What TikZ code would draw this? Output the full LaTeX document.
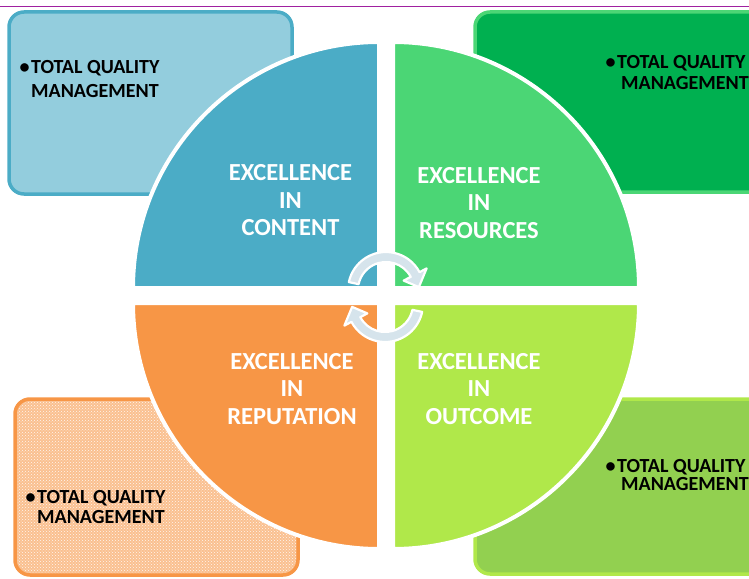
\documentclass[tikz,border=0pt]{standalone}
\usepackage{fontspec}
\setmainfont{Carlito}
\usetikzlibrary{patterns}

\definecolor{qblue}{RGB}{75,172,198}
\definecolor{qgreen}{RGB}{75,214,117}
\definecolor{qorange}{RGB}{247,150,70}
\definecolor{qlime}{RGB}{176,232,74}
\definecolor{bblue}{RGB}{147,205,221}
\definecolor{bgreen}{RGB}{0,176,80}
\definecolor{borange}{RGB}{250,192,144}
\definecolor{blime}{RGB}{146,208,80}
\definecolor{rule}{RGB}{160,32,160}
\definecolor{arrowfill}{RGB}{214,228,236}

\begin{document}
\begin{tikzpicture}[x=1pt,y=1pt,
  infobox/.style={line width=3.5pt, rounded corners=15pt},
  quarter/.style={draw=white, line width=4pt, line join=round},
  cyclearrow/.style={fill=arrowfill, draw=white, line width=2.2pt, line join=round},
  qlabel/.style={text=white, font=\fontsize{24.5}{27.5}\selectfont\bfseries, align=center, inner sep=0pt},
  bline/.style={text=black, font=\fontsize{20}{23}\selectfont\bfseries, anchor=base west, inner sep=0pt}]
\useasboundingbox (0,0) rectangle (749,-578);
\clip (0,0) rectangle (749,-578);

% heading rule
\draw[rule, line width=1.6pt] (0,-6.5) -- (749,-6.5);

% corner boxes
\draw[infobox, draw=qblue, fill=bblue] (9,-12) rectangle (292,-194);
\draw[infobox, draw=qgreen, fill=bgreen] (475,-12) rectangle (770,-192);
\draw[infobox, draw=qorange, fill=borange] (15,-399) rectangle (298,-575);
\fill[pattern=crosshatch dots, pattern color=white!85!borange, rounded corners=15pt] (17,-401) rectangle (296,-573);
\draw[infobox, draw=qlime, fill=blime] (475,-399) rectangle (770,-574);

% four quarter discs
\def\R{246}
\path[quarter, fill=qblue]   (379,-288) -- ++(-\R,0) arc[start angle=180, end angle=90,  radius=\R] -- cycle;
\path[quarter, fill=qgreen]  (393,-288) -- ++(0,\R)  arc[start angle=90,  end angle=0,   radius=\R] -- cycle;
\path[quarter, fill=qorange] (379,-303) -- ++(0,-\R) arc[start angle=270, end angle=180, radius=\R] -- cycle;
\path[quarter, fill=qlime]   (393,-303) -- ++(\R,0)  arc[start angle=0,   end angle=-90, radius=\R] -- cycle;

% circular arrows in the middle
\path[cyclearrow, shift={(386,-290)}]
  (168:38) arc[start angle=168, end angle=28, radius=38]
  -- (28:46) -- (5:33) -- (28:20) -- (28:28)
  arc[start angle=28, end angle=168, radius=28] -- cycle;
\path[cyclearrow, shift={(385,-304)}, rotate=180]
  (168:38) arc[start angle=168, end angle=28, radius=38]
  -- (28:46) -- (5:33) -- (28:20) -- (28:28)
  arc[start angle=28, end angle=168, radius=28] -- cycle;

% quadrant labels
\node[qlabel] (content)    at (290.5,-200.5) {EXCELLENCE\\IN\\CONTENT};
\node[qlabel] (resources)  at (479,-203)   {EXCELLENCE\\IN\\RESOURCES};
\node[qlabel] (reputation) at (292,-389)   {EXCELLENCE\\IN\\REPUTATION};
\node[qlabel] (outcome)    at (479,-389)   {EXCELLENCE\\IN\\OUTCOME};

% box texts
\node[bline] (tqmA) at (31,-74)  {\llap{\textbullet\hspace{1.5pt}}TOTAL QUALITY};
\node[bline] (tqmB) at (31,-97)  {MANAGEMENT};
\node[bline] (tqmC) at (617,-68) {\llap{\textbullet\hspace{1.5pt}}TOTAL QUALITY};
\node[bline] (tqmD) at (621,-89) {MANAGEMENT};
\node[bline] (tqmE) at (37,-503) {\llap{\textbullet\hspace{1.5pt}}TOTAL QUALITY};
\node[bline] (tqmF) at (37,-523) {MANAGEMENT};
\node[bline] (tqmG) at (617,-472) {\llap{\textbullet\hspace{1.5pt}}TOTAL QUALITY};
\node[bline] (tqmH) at (621,-490) {MANAGEMENT};
\end{tikzpicture}
\end{document}
